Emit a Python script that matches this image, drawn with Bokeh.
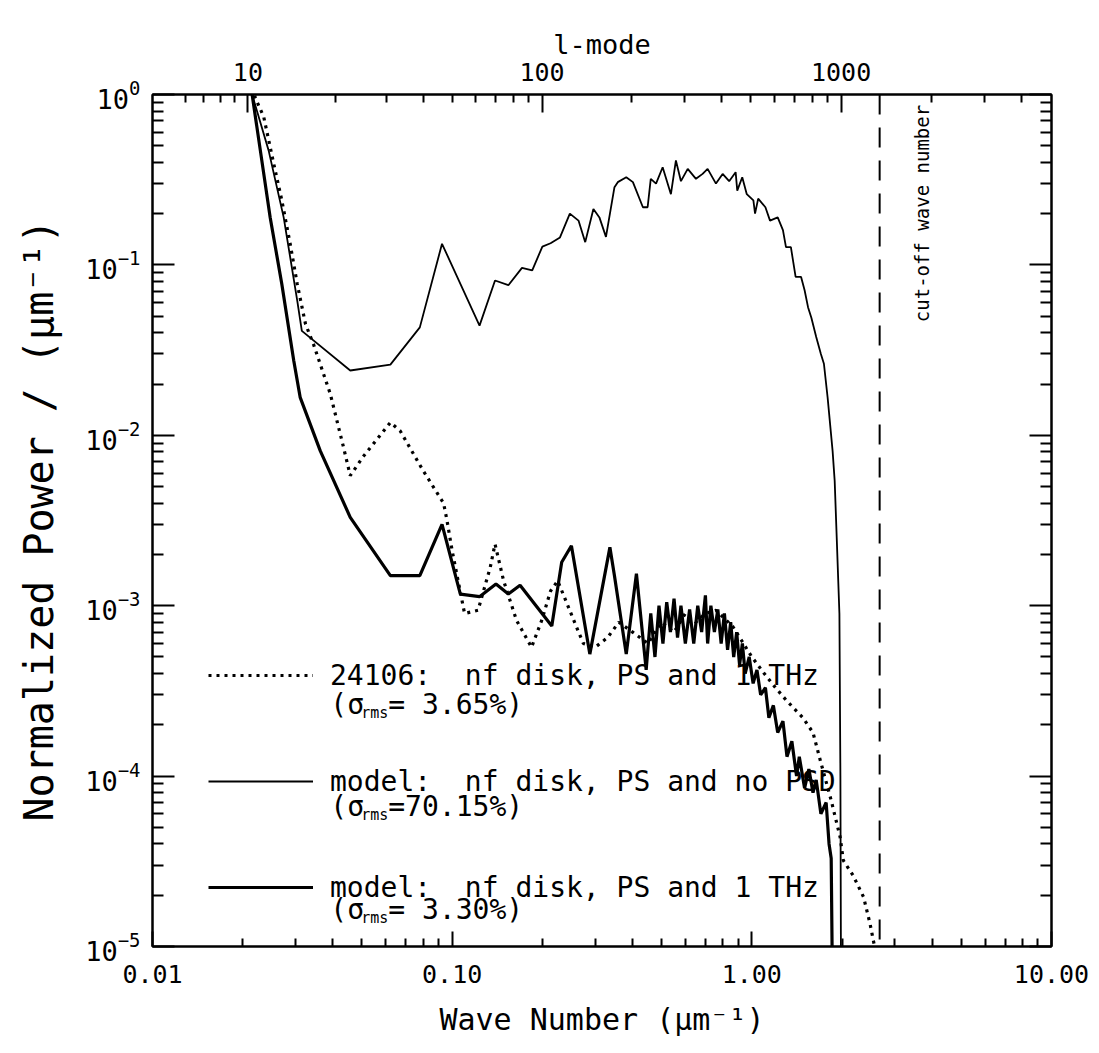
import math
from bokeh.plotting import figure
from bokeh.models import (LogAxis, FixedTicker, Label, Legend, LegendItem, Span,
                          PrintfTickFormatter)
from bokeh.embed import file_html
from bokeh.resources import INLINE

# ---------------- data ----------------
# measured spectrum 24106 (dotted)
k_obs = [0.0218, 0.022, 0.0235, 0.0254, 0.027, 0.0288, 0.0304, 0.0324, 0.0345, 0.0392,
         0.0434, 0.0457, 0.0505, 0.0622, 0.0671, 0.08, 0.0936, 0.096, 0.1, 0.11,
         0.122, 0.134, 0.139, 0.1485, 0.164, 0.184, 0.199, 0.213, 0.225, 0.26,
         0.274, 0.30, 0.33, 0.36, 0.40, 0.45, 0.50, 0.55, 0.60, 0.65,
         0.70, 0.76, 0.866, 1.0, 1.1, 1.2, 1.3, 1.48, 1.6, 1.7,
         1.84, 1.97, 2.02, 2.18, 2.36, 2.48, 2.54, 2.6]
p_obs = [1.1, 0.96, 0.74, 0.39, 0.24, 0.133, 0.0775, 0.045, 0.034, 0.0175,
         0.0085, 0.0058, 0.0075, 0.0119, 0.0106, 0.0062, 0.0040, 0.0032, 0.0021, 0.0009,
         0.00094, 0.00168, 0.0023, 0.0014, 0.00082, 0.00057, 0.00082, 0.00122, 0.0014, 0.00075,
         0.0006, 0.00057, 0.00065, 0.0008, 0.0007, 0.0006, 0.0008, 0.0007, 0.0009, 0.0008,
         0.0009, 0.00094, 0.00075, 0.0005, 0.0004, 0.00033, 0.00028, 0.00022, 0.00018, 0.00012,
         7.2e-5, 4.4e-5, 3.2e-5, 2.6e-5, 1.95e-5, 1.36e-5, 1.1e-5, 9.0e-6]

# model without filtering (thin solid, upper curve)
k_nofilt = [0.0213, 0.0215, 0.0244, 0.0274, 0.0304, 0.0315, 0.0457, 0.0622, 0.078, 0.0925,
            0.1234, 0.139, 0.154, 0.171, 0.185, 0.200, 0.213, 0.229, 0.247, 0.264,
            0.278, 0.296, 0.31, 0.326, 0.348, 0.357, 0.381, 0.401, 0.433, 0.449,
            0.46, 0.479, 0.504, 0.537, 0.558, 0.58, 0.611, 0.651, 0.685, 0.712,
            0.759, 0.799, 0.84, 0.883, 0.894, 0.929, 0.962, 1.012, 1.025, 1.05,
            1.11, 1.15, 1.22, 1.27, 1.30, 1.35, 1.40, 1.46, 1.50, 1.54,
            1.58, 1.64, 1.70, 1.74, 1.79, 1.86, 1.89, 1.92, 1.96, 1.975, 1.985]
p_nofilt = [1.1, 1.0, 0.47, 0.19, 0.062, 0.041, 0.024, 0.026, 0.043, 0.133,
            0.044, 0.081, 0.076, 0.096, 0.093, 0.128, 0.134, 0.145, 0.2, 0.182,
            0.136, 0.213, 0.19, 0.146, 0.286, 0.306, 0.327, 0.306, 0.218, 0.218,
            0.32, 0.30, 0.374, 0.26, 0.41, 0.31, 0.366, 0.32, 0.342, 0.366,
            0.30, 0.342, 0.31, 0.35, 0.273, 0.327, 0.26, 0.239, 0.2, 0.245,
            0.218, 0.182, 0.19, 0.16, 0.127, 0.127, 0.085, 0.085, 0.071, 0.0565,
            0.049, 0.0377, 0.030, 0.0263, 0.0167, 0.0081, 0.0054, 0.0025, 0.0009, 0.0001, 5e-6]

# model with 1 THz filtering (thick solid, lower curve)
k_thz = [0.0213, 0.0215, 0.0229, 0.0247, 0.0270, 0.0296, 0.0311, 0.0363, 0.0457, 0.0622,
         0.078, 0.0925, 0.1065, 0.1234, 0.14, 0.154, 0.1685, 0.215, 0.232, 0.25,
         0.288, 0.336, 0.348, 0.381, 0.412, 0.444, 0.46, 0.475, 0.49, 0.505,
         0.52, 0.535, 0.55, 0.565, 0.58, 0.60, 0.62, 0.64, 0.66, 0.68,
         0.70, 0.712, 0.73, 0.75, 0.77, 0.79, 0.81, 0.83, 0.85, 0.87,
         0.89, 0.91, 0.93, 0.95, 0.98, 1.01, 1.04, 1.07, 1.11, 1.14,
         1.18, 1.22, 1.27, 1.31, 1.36, 1.41, 1.44, 1.50, 1.55, 1.60,
         1.64, 1.70, 1.77, 1.81, 1.84, 1.86]
p_thz = [1.1, 1.0, 0.47, 0.19, 0.0775, 0.0275, 0.0167, 0.0081, 0.0033, 0.0015,
         0.0015, 0.003, 0.00117, 0.00113, 0.00134, 0.00117, 0.00132, 0.00076, 0.0018, 0.00225,
         0.00052, 0.0022, 0.0015, 0.00052, 0.00154, 0.00042, 0.0009, 0.0005, 0.001, 0.0006,
         0.00105, 0.0007, 0.0011, 0.00065, 0.001, 0.0006, 0.00095, 0.0006, 0.001, 0.0007,
         0.00115, 0.0006, 0.001, 0.0007, 0.00095, 0.0006, 0.0009, 0.00055, 0.0008, 0.0005,
         0.0007, 0.00045, 0.0006, 0.0004, 0.0005, 0.00035, 0.00042, 0.0003, 0.00033, 0.00022,
         0.00026, 0.00018, 0.00021, 0.00013, 0.00016, 0.0001, 0.00013, 8.5e-5, 0.00011, 8e-5,
         9.5e-5, 6e-5, 7e-5, 4e-5, 3.3e-5, 5e-6]

k_cutoff = 2.67

x_ticks = [0.01, 0.1, 1.0, 10.0]
y_exponents = [0, -1, -2, -3, -4, -5]
l_major = [10, 100, 1000]
l_minor = [6, 7, 8, 9, 20, 30, 40, 50, 60, 70, 80, 90,
           200, 300, 400, 500, 600, 700, 800, 900, 2000, 3000, 4000]
R_conv = 503.8   # k = sqrt(l(l+1)) / R

legend_titles = ["24106:  nf disk, PS and 1 THz",
                 "model:  nf disk, PS and no PSD",
                 "model:  nf disk, PS and 1 THz"]
legend_sigma = ["= 3.65%)", "=70.15%)", "= 3.30%)"]

# ---------------- layout helpers (pixel -> data, for text placement) ----------------
FL, FT, PXD_X, PXD_Y = 152.0, 94.0, 300.0, 170.4   # frame left/top in page px, px per decade
def kx(px):
    return 0.01 * 10 ** ((px - FL) / PXD_X)
def py(pyv):
    return 10 ** (-(pyv - FT) / PXD_Y)

FONT = "DejaVu Sans Mono"
INK = "black"

p = figure(x_axis_type="log", y_axis_type="log", x_range=(0.01, 10), y_range=(1e-5, 1),
           frame_width=899, frame_height=852,
           min_border_left=152, min_border_right=44, min_border_top=94, min_border_bottom=103,
           output_backend="svg", toolbar_location=None)
p.xgrid.visible = False
p.ygrid.visible = False
p.outline_line_color = INK
p.outline_line_width = 2
p.background_fill_color = "white"
p.border_fill_color = "white"

y_major = [10.0 ** e for e in y_exponents]
y_minor = [m * 10.0 ** e for e in y_exponents[1:] for m in range(2, 10)]

# bottom axis
xa = p.xaxis[0]
xa.ticker = FixedTicker(ticks=x_ticks,
                        minor_ticks=[m * d for d in (0.01, 0.1, 1.0) for m in range(2, 10)])
xa.formatter = PrintfTickFormatter(format="%.2f")
xa.major_tick_in, xa.major_tick_out = 15, 0
xa.minor_tick_in, xa.minor_tick_out = 8, 0
xa.major_tick_line_width = 2
xa.minor_tick_line_width = 2
xa.axis_line_width = 2
xa.major_label_text_font = FONT
xa.major_label_text_font_size = "25px"
xa.major_label_text_color = INK
xa.major_label_standoff = 18
xa.axis_label = "Wave Number (μm⁻¹)"
xa.axis_label_text_font = FONT
xa.axis_label_text_font_size = "30px"
xa.axis_label_text_font_style = "normal"
xa.axis_label_text_color = INK
xa.axis_label_standoff = 16

# left axis (10 with superscript exponent, default log formatter)
ya = p.yaxis[0]
ya.ticker = FixedTicker(ticks=y_major, minor_ticks=y_minor)
ya.major_tick_in, ya.major_tick_out = 22, 0
ya.minor_tick_in, ya.minor_tick_out = 11, 0
ya.major_tick_line_width = 2
ya.minor_tick_line_width = 2
ya.axis_line_width = 2
ya.major_label_text_font = FONT
ya.major_label_text_font_size = "27px"
ya.major_label_text_color = INK
ya.major_label_standoff = 12
ya.axis_label = "Normalized Power / (μm⁻¹)"
ya.axis_label_text_font = FONT
ya.axis_label_text_font_size = "40px"
ya.axis_label_text_font_style = "normal"
ya.axis_label_text_color = INK
ya.axis_label_standoff = 20

# right axis (mirror ticks only)
ra = LogAxis(ticker=FixedTicker(ticks=y_major, minor_ticks=y_minor),
             major_label_text_font_size="1px", major_label_text_color=None,
             major_tick_in=22, major_tick_out=0,
             minor_tick_in=11, minor_tick_out=0, major_tick_line_width=2,
             minor_tick_line_width=2, axis_line_width=2)
p.add_layout(ra, "right")

# top axis: l-mode
def k_of_l(l):
    return math.sqrt(l * (l + 1)) / R_conv
top_major = [k_of_l(l) for l in l_major]
ta = LogAxis(ticker=FixedTicker(ticks=top_major, minor_ticks=[k_of_l(l) for l in l_minor]),
             major_label_overrides={k: str(l) for k, l in zip(top_major, l_major)},
             major_tick_in=18, major_tick_out=0, minor_tick_in=8, minor_tick_out=0,
             major_tick_line_width=2, minor_tick_line_width=2, axis_line_width=2,
             major_label_text_font=FONT, major_label_text_font_size="25px",
             major_label_text_color=INK, major_label_standoff=14,
             axis_label="l-mode", axis_label_text_font=FONT, axis_label_text_font_size="27px",
             axis_label_text_font_style="normal", axis_label_text_color=INK,
             axis_label_standoff=0)
p.add_layout(ta, "above")

# curves
r_thz = p.line(k_thz, p_thz, line_color=INK, line_width=3.2)
r_nofilt = p.line(k_nofilt, p_nofilt, line_color=INK, line_width=1.8)
r_obs = p.line(k_obs, p_obs, line_color=INK, line_width=3.2, line_dash="3 5")

# cut-off
p.add_layout(Span(location=k_cutoff, dimension="height", line_color=INK,
                  line_width=2, line_dash="20 13"))
p.add_layout(Label(x=k_cutoff, y=py(213), x_offset=42, text="cut-off wave number",
                   angle=math.pi / 2, text_align="center", text_baseline="middle",
                   text_font=FONT, text_font_size="19px", text_color=INK))

# legend (sample lines + first text row)
legend = Legend(items=[LegendItem(label=legend_titles[0], renderers=[r_obs]),
                       LegendItem(label=legend_titles[1], renderers=[r_nofilt]),
                       LegendItem(label=legend_titles[2], renderers=[r_thz])],
                location=(56, 42), orientation="vertical",
                glyph_width=105, glyph_height=34, label_height=34, spacing=72,
                label_standoff=17, padding=0, margin=0,
                border_line_color=None, background_fill_alpha=0,
                label_text_font=FONT, label_text_font_size="28px",
                label_text_color=INK)
p.add_layout(legend)

# second legend rows: (σ_rms = ...)
row_y = [704, 806, 909]
for yv, sval in zip(row_y, legend_sigma):
    x0 = 330
    p.add_layout(Label(x=kx(x0), y=py(yv), text="(σ", text_align="left",
                       text_baseline="middle", text_font=FONT, text_font_size="28px",
                       text_color=INK))
    p.add_layout(Label(x=kx(x0 + 31), y=py(yv + 8), text="rms", text_align="left",
                       text_baseline="middle", text_font=FONT, text_font_size="15px",
                       text_color=INK))
    p.add_layout(Label(x=kx(x0 + 58), y=py(yv), text=sval, text_align="left",
                       text_baseline="middle", text_font=FONT, text_font_size="28px",
                       text_color=INK))

open("out.html", "w").write(file_html(p, INLINE))
